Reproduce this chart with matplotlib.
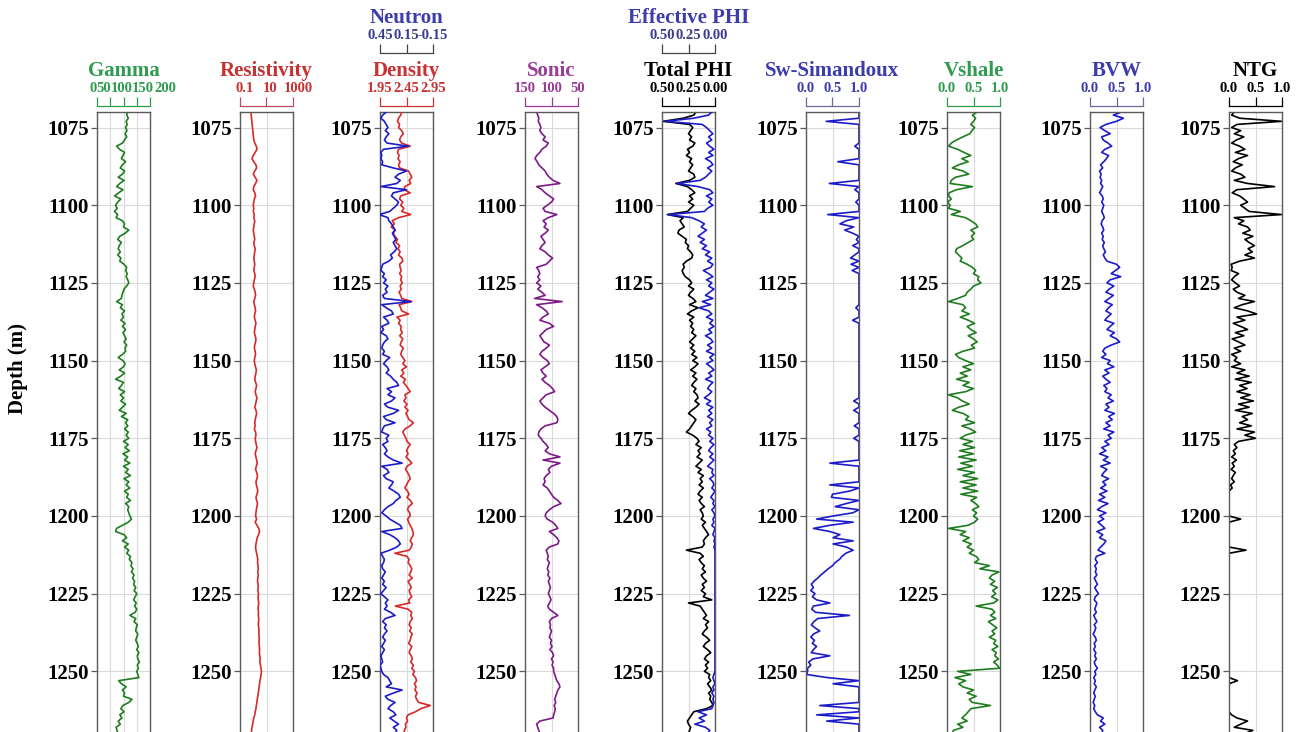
import numpy as np
import matplotlib
matplotlib.use("Agg")
import matplotlib.pyplot as plt
from matplotlib.ticker import NullLocator
from matplotlib.transforms import ScaledTranslation

plt.rcParams['font.family'] = ['Liberation Serif', 'DejaVu Serif']
plt.rcParams['font.weight'] = 'bold'

# ---------------------------------------------------------------- data
depth = np.arange(1070, 1271)          # 1 m sampling
depth_ticks = [1075, 1100, 1125, 1150, 1175, 1200, 1225, 1250]

gamma = [
    116, 112, 118, 110, 114, 108, 113, 106, 112, 104,
    96, 74, 85, 104, 98, 92, 108, 96, 88, 104,
    96, 80, 102, 86, 74, 98, 82, 66, 90, 78,
    70, 76, 66, 78, 72, 96, 104, 100, 120, 106,
    86, 78, 92, 84, 80, 88, 78, 90, 86, 102,
    112, 108, 114, 110, 116, 120, 112, 102, 98, 94,
    92, 74, 96, 88, 104, 94, 100, 90, 106, 96,
    108, 98, 104, 110, 102, 112, 106, 108, 96, 80,
    98, 106, 100, 84, 104, 90, 70, 100, 92, 82,
    104, 88, 100, 90, 108, 96, 84, 110, 92, 116,
    108, 116, 104, 118, 110, 120, 100, 118, 106, 122,
    98, 116, 104, 124, 100, 118, 108, 126, 102, 120,
    110, 124, 104, 118, 112, 126, 108, 120, 116, 120,
    124, 130, 118, 96, 74, 70, 102, 112, 96, 118,
    104, 120, 112, 126, 122, 132, 128, 136, 130, 140,
    134, 142, 138, 146, 140, 150, 144, 138, 148, 142,
    150, 144, 124, 146, 140, 152, 148, 146, 154, 150,
    146, 152, 156, 150, 158, 152, 154, 160, 152, 156,
    150, 154, 158, 82, 92, 110, 96, 104, 100, 132,
    120, 98, 90, 102, 86, 94, 80, 88, 72, 76,
    78]

resistivity = [
    0.66, 0.70, 0.75, 0.80, 0.85, 0.90, 0.95, 1.0, 1.05, 1.1,
    1.3, 1.7, 1.9, 1.4, 1.0, 0.8, 1.1, 1.6, 1.8, 1.3,
    1.0, 1.4, 1.9, 1.5, 1.1, 1.0, 1.3, 1.5, 1.2, 1.1,
    1.0, 1.1, 1.0, 1.2, 1.1, 1.3, 1.2, 1.1, 1.0, 1.1,
    1.2, 1.3, 1.1, 1.2, 1.4, 1.3, 1.2, 1.1, 1.2, 1.3,
    1.2, 1.1, 1.3, 1.4, 1.2, 1.1, 1.0, 1.2, 1.4, 1.5,
    1.3, 1.1, 1.2, 1.4, 1.5, 1.3, 1.2, 1.4, 1.6, 1.4,
    1.3, 1.2, 1.4, 1.6, 1.5, 1.3, 1.2, 1.4, 1.5, 1.3,
    1.2, 1.3, 1.5, 1.7, 1.6, 1.4, 1.3, 1.5, 1.8, 1.6,
    1.4, 1.6, 1.9, 1.7, 1.5, 1.3, 1.6, 1.8, 1.6, 1.4,
    1.3, 1.4, 1.2, 1.5, 1.6, 1.4, 1.5, 1.7, 1.9, 1.6,
    1.4, 1.6, 1.8, 2.0, 1.7, 1.5, 1.8, 2.1, 1.9, 1.6,
    1.7, 2.0, 2.2, 1.9, 1.6, 1.8, 2.1, 1.9, 1.7, 1.6,
    1.5, 1.8, 1.4, 1.9, 2.6, 3.0, 2.5, 2.0, 1.8, 1.6,
    1.5, 1.6, 1.8, 2.0, 2.2, 2.1, 2.3, 2.4, 2.2, 2.4,
    2.2, 2.1, 2.3, 2.4, 2.2, 2.5, 2.3, 2.4, 2.6, 2.4,
    2.3, 2.5, 2.4, 2.6, 2.5, 2.4, 2.6, 2.7, 2.6, 2.8,
    2.8, 2.7, 2.9, 3.0, 2.9, 3.1, 3.3, 3.2, 3.5, 3.8,
    4.2, 3.9, 3.6, 3.2, 3.0, 2.8, 2.6, 2.4, 2.2, 2.0,
    1.9, 1.7, 1.6, 1.4, 1.3, 1.1, 1.0, 0.9, 0.8, 0.75,
    0.7]

density = [
    2.36, 2.34, 2.30, 2.28, 2.32, 2.30, 2.36, 2.39, 2.34, 2.32,
    2.36, 2.52, 2.30, 2.28, 2.31, 2.29, 2.33, 2.30, 2.32, 2.49,
    2.52, 2.55, 2.50, 2.53, 2.42, 2.40, 2.52, 2.34, 2.32, 2.38,
    2.34, 2.40, 2.36, 2.53, 2.30, 2.18, 2.22, 2.16, 2.24, 2.20,
    2.23, 2.28, 2.25, 2.32, 2.29, 2.33, 2.30, 2.36, 2.38, 2.32,
    2.33, 2.35, 2.32, 2.36, 2.34, 2.37, 2.33, 2.35, 2.31, 2.34,
    2.36, 2.55, 2.31, 2.34, 2.36, 2.49, 2.27, 2.33, 2.30, 2.35,
    2.34, 2.37, 2.32, 2.38, 2.35, 2.33, 2.39, 2.36, 2.34, 2.38,
    2.42, 2.38, 2.45, 2.36, 2.40, 2.34, 2.43, 2.39, 2.44, 2.48,
    2.52, 2.42, 2.44, 2.40, 2.46, 2.42, 2.48, 2.44, 2.47, 2.50,
    2.58, 2.52, 2.42, 2.38, 2.41, 2.44, 2.46, 2.52, 2.48, 2.45,
    2.48, 2.44, 2.50, 2.55, 2.46, 2.43, 2.47, 2.50, 2.52, 2.48,
    2.45, 2.42, 2.47, 2.50, 2.46, 2.52, 2.56, 2.49, 2.47, 2.51,
    2.52, 2.47, 2.49, 2.52, 2.55, 2.57, 2.58, 2.55, 2.52, 2.56,
    2.54, 2.50, 2.23, 2.46, 2.50, 2.48, 2.52, 2.55, 2.53, 2.50,
    2.56, 2.48, 2.51, 2.54, 2.50, 2.52, 2.55, 2.49, 2.51, 2.24,
    2.48, 2.55, 2.53, 2.56, 2.52, 2.50, 2.54, 2.51, 2.56, 2.53,
    2.52, 2.49, 2.55, 2.52, 2.50, 2.54, 2.56, 2.53, 2.58, 2.55,
    2.60, 2.57, 2.62, 2.64, 2.60, 2.63, 2.61, 2.65, 2.62, 2.64,
    2.68, 2.90, 2.72, 2.62, 2.48, 2.45, 2.47, 2.43, 2.44, 2.41,
    2.40]

neutron = [
    0.38, 0.42, 0.44, 0.40, 0.38, 0.36, 0.39, 0.35, 0.38, 0.40,
    0.37, 0.13, 0.41, 0.44, 0.43, 0.44, 0.42, 0.43, 0.30, 0.15,
    0.24, 0.28, 0.22, 0.26, 0.44, 0.15, 0.30, 0.32, 0.28, 0.24,
    0.26, 0.30, 0.34, 0.46, 0.36, 0.35, 0.32, 0.30, 0.28, 0.31,
    0.29, 0.27, 0.30, 0.28, 0.26, 0.29, 0.33, 0.31, 0.35, 0.42,
    0.43, 0.44, 0.40, 0.42, 0.38, 0.41, 0.36, 0.39, 0.37, 0.42,
    0.40, 0.10, 0.43, 0.38, 0.32, 0.30, 0.41, 0.37, 0.35, 0.43,
    0.41, 0.44, 0.38, 0.36, 0.40, 0.42, 0.43, 0.40, 0.42, 0.34,
    0.38, 0.41, 0.37, 0.35, 0.38, 0.33, 0.30, 0.26, 0.24, 0.37,
    0.32, 0.36, 0.28, 0.32, 0.40, 0.36, 0.24, 0.30, 0.41, 0.38,
    0.28, 0.40, 0.42, 0.43, 0.35, 0.38, 0.36, 0.42, 0.39, 0.37,
    0.40, 0.36, 0.30, 0.20, 0.43, 0.37, 0.35, 0.41, 0.38, 0.30,
    0.32, 0.35, 0.29, 0.24, 0.22, 0.27, 0.30, 0.36, 0.40, 0.43,
    0.38, 0.34, 0.28, 0.22, 0.20, 0.43, 0.34, 0.28, 0.24, 0.22,
    0.26, 0.34, 0.44, 0.42, 0.40, 0.41, 0.43, 0.42, 0.39, 0.41,
    0.43, 0.40, 0.42, 0.38, 0.41, 0.44, 0.40, 0.36, 0.39, 0.37,
    0.40, 0.33, 0.28, 0.39, 0.42, 0.38, 0.40, 0.37, 0.40, 0.42,
    0.39, 0.41, 0.43, 0.40, 0.42, 0.44, 0.43, 0.42, 0.45, 0.44,
    0.43, 0.41, 0.36, 0.34, 0.32, 0.38, 0.20, 0.30, 0.39, 0.36,
    0.28, 0.33, 0.36, 0.30, 0.27, 0.34, 0.29, 0.24, 0.30, 0.26,
    0.28]

sonic = [
    128, 126, 124, 125, 122, 120, 122, 118, 112, 116,
    106, 110, 118, 122, 128, 131, 127, 124, 118, 112,
    109, 104, 97, 84, 128, 118, 112, 104, 96, 100,
    108, 116, 112, 90, 106, 116, 110, 114, 106, 112,
    120, 116, 112, 118, 122, 112, 106, 98, 104, 110,
    128, 124, 122, 126, 122, 128, 120, 126, 118, 112,
    132, 80, 128, 118, 110, 106, 116, 122, 104, 96,
    110, 116, 122, 118, 114, 104, 110, 118, 122, 116,
    108, 104, 112, 120, 116, 110, 118, 112, 104, 98,
    94, 110, 116, 122, 118, 112, 104, 96, 90, 88,
    90, 112, 120, 124, 125, 120, 116, 110, 106, 112,
    104, 84, 116, 84, 100, 106, 103, 110, 114, 112,
    116, 108, 104, 100, 96, 88, 82, 96, 104, 110,
    112, 108, 98, 92, 88, 104, 96, 90, 86, 88,
    104, 110, 108, 106, 108, 104, 106, 108, 105, 107,
    103, 106, 104, 102, 104, 106, 103, 101, 104, 107,
    104, 96, 88, 100, 104, 102, 103, 100, 102, 104,
    100, 102, 99, 103, 98, 96, 100, 97, 99, 96,
    96, 94, 92, 90, 86, 84, 88, 90, 92, 94,
    92, 95, 93, 94, 96, 97, 122, 128, 126, 124,
    122]

total_phi = [
    0.18, 0.20, 0.30, 0.49, 0.24, 0.21, 0.23, 0.25, 0.22, 0.24,
    0.19, 0.21, 0.26, 0.24, 0.27, 0.22, 0.24, 0.21, 0.23, 0.25,
    0.20, 0.19, 0.24, 0.37, 0.26, 0.22, 0.19, 0.24, 0.21, 0.25,
    0.20, 0.23, 0.26, 0.45, 0.30, 0.33, 0.31, 0.29, 0.34, 0.35,
    0.31, 0.27, 0.28, 0.25, 0.26, 0.23, 0.21, 0.22, 0.27, 0.30,
    0.29, 0.31, 0.30, 0.28, 0.24, 0.22, 0.25, 0.20, 0.23, 0.25,
    0.21, 0.18, 0.24, 0.16, 0.22, 0.26, 0.20, 0.24, 0.21, 0.23,
    0.20, 0.22, 0.18, 0.21, 0.24, 0.20, 0.23, 0.19, 0.22, 0.17,
    0.21, 0.16, 0.19, 0.23, 0.18, 0.21, 0.17, 0.20, 0.22, 0.18,
    0.20, 0.17, 0.16, 0.19, 0.15, 0.18, 0.22, 0.25, 0.21, 0.18,
    0.20, 0.22, 0.24, 0.27, 0.21, 0.17, 0.15, 0.18, 0.13, 0.16,
    0.14, 0.17, 0.12, 0.15, 0.18, 0.13, 0.16, 0.11, 0.14, 0.12,
    0.15, 0.11, 0.14, 0.16, 0.12, 0.15, 0.13, 0.10, 0.14, 0.12,
    0.11, 0.13, 0.09, 0.12, 0.10, 0.08, 0.06, 0.09, 0.11, 0.10,
    0.12, 0.27, 0.14, 0.11, 0.15, 0.13, 0.10, 0.12, 0.09, 0.13,
    0.11, 0.08, 0.12, 0.10, 0.13, 0.09, 0.11, 0.03, 0.25, 0.14,
    0.12, 0.10, 0.08, 0.11, 0.06, 0.09, 0.07, 0.10, 0.12, 0.08,
    0.05, 0.09, 0.11, 0.07, 0.04, 0.08, 0.10, 0.06, 0.09, 0.07,
    0.10, 0.05, 0.06, 0.04, 0.07, 0.05, 0.03, 0.06, 0.04, 0.05,
    0.03, 0.02, 0.08, 0.20, 0.22, 0.24, 0.26, 0.25, 0.23, 0.24,
    0.25]

effective_phi = [
    0.03, 0.06, 0.20, 0.47, 0.12, 0.08, 0.05, 0.02, 0.06, 0.03,
    0.08, 0.05, 0.01, 0.06, 0.02, 0.09, 0.04, 0.02, 0.07, 0.03,
    0.06, 0.09, 0.14, 0.36, 0.16, 0.05, 0.02, 0.08, 0.03, 0.06,
    0.02, 0.07, 0.10, 0.44, 0.22, 0.15, 0.10, 0.13, 0.08, 0.12,
    0.16, 0.10, 0.14, 0.08, 0.12, 0.05, 0.09, 0.03, 0.07, 0.02,
    0.04, 0.11, 0.06, 0.02, 0.08, 0.03, 0.06, 0.01, 0.05, 0.09,
    0.02, 0.12, 0.04, 0.15, 0.06, 0.03, 0.08, 0.02, 0.05, 0.01,
    0.06, 0.03, 0.09, 0.04, 0.02, 0.07, 0.03, 0.08, 0.01, 0.05,
    0.02, 0.08, 0.04, 0.01, 0.06, 0.03, 0.09, 0.02, 0.05, 0.07,
    0.03, 0.06, 0.10, 0.04, 0.08, 0.02, 0.06, 0.03, 0.07, 0.02,
    0.05, 0.03, 0.08, 0.04, 0.06, 0.02, 0.05, 0.01, 0.04, 0.06,
    0.02, 0.05, 0.01, 0.04, 0.07, 0.02, 0.03, 0.01, 0.05, 0.02,
    0.01, 0.03, 0.00, 0.02, 0.04, 0.01, 0.02, 0.00, 0.03, 0.01,
    0.00, 0.02, 0.01, 0.03, 0.00, 0.01, 0.02, 0.00, 0.01, 0.00,
    0.01, 0.00, 0.00, 0.00, 0.00, 0.00, 0.00, 0.00, 0.00, 0.00,
    0.00, 0.00, 0.00, 0.00, 0.00, 0.00, 0.00, 0.00, 0.00, 0.00,
    0.00, 0.00, 0.00, 0.00, 0.00, 0.00, 0.00, 0.00, 0.00, 0.00,
    0.00, 0.00, 0.00, 0.00, 0.00, 0.00, 0.00, 0.00, 0.00, 0.00,
    0.00, 0.01, 0.02, 0.01, 0.00, 0.02, 0.01, 0.03, 0.01, 0.02,
    0.01, 0.02, 0.03, 0.16, 0.08, 0.15, 0.10, 0.19, 0.09, 0.05,
    0.07]

sw_simandoux = [
    1.00, 1.00, 1.00, 0.38, 1.00, 1.00, 1.00, 1.00, 1.00, 1.00,
    1.00, 0.92, 1.00, 1.00, 1.00, 1.00, 0.60, 1.00, 1.00, 1.00,
    1.00, 1.00, 1.00, 0.44, 1.00, 0.92, 1.00, 1.00, 1.00, 0.94,
    1.00, 1.00, 1.00, 0.41, 1.00, 0.76, 0.64, 0.90, 0.73, 0.88,
    1.00, 0.95, 1.00, 0.88, 1.00, 1.00, 0.92, 0.84, 1.00, 0.85,
    1.00, 0.87, 1.00, 1.00, 1.00, 1.00, 1.00, 1.00, 1.00, 1.00,
    1.00, 1.00, 1.00, 0.94, 1.00, 1.00, 1.00, 0.88, 1.00, 1.00,
    1.00, 1.00, 1.00, 1.00, 1.00, 1.00, 1.00, 1.00, 1.00, 1.00,
    1.00, 1.00, 1.00, 1.00, 1.00, 1.00, 1.00, 1.00, 1.00, 1.00,
    1.00, 1.00, 1.00, 0.90, 1.00, 1.00, 0.90, 1.00, 1.00, 1.00,
    1.00, 0.91, 1.00, 1.00, 1.00, 0.90, 1.00, 1.00, 1.00, 1.00,
    1.00, 1.00, 1.00, 0.45, 1.00, 1.00, 1.00, 1.00, 1.00, 1.00,
    0.45, 1.00, 0.82, 0.50, 0.48, 1.00, 0.76, 0.55, 1.00, 0.88,
    0.51, 0.20, 0.89, 0.45, 0.14, 0.45, 0.64, 0.51, 0.89, 0.51,
    0.76, 0.89, 0.75, 0.68, 0.63, 0.55, 0.50, 0.42, 0.35, 0.28,
    0.22, 0.15, 0.10, 0.14, 0.09, 0.17, 0.12, 0.20, 0.45, 0.14,
    0.11, 0.18, 0.82, 0.22, 0.15, 0.10, 0.17, 0.26, 0.14, 0.09,
    0.16, 0.12, 0.20, 0.14, 0.10, 0.45, 0.13, 0.05, 0.09, 0.03,
    0.03, 0.01, 0.40, 1.00, 0.51, 1.00, 1.00, 1.00, 1.00, 1.00,
    1.00, 0.26, 1.00, 1.00, 0.20, 1.00, 0.39, 1.00, 1.00, 1.00,
    1.00]

vshale = [
    0.57, 0.48, 0.54, 0.50, 0.45, 0.52, 0.47, 0.43, 0.30, 0.18,
    0.08, 0.03, 0.20, 0.32, 0.45, 0.28, 0.40, 0.22, 0.10, 0.30,
    0.41, 0.16, 0.08, 0.06, 0.48, 0.18, 0.04, 0.03, 0.08, 0.01,
    0.06, 0.03, 0.25, 0.08, 0.35, 0.45, 0.54, 0.58, 0.45, 0.52,
    0.46, 0.50, 0.40, 0.30, 0.18, 0.16, 0.22, 0.28, 0.25, 0.38,
    0.48, 0.54, 0.50, 0.60, 0.58, 0.64, 0.50, 0.45, 0.38, 0.35,
    0.20, 0.03, 0.30, 0.35, 0.28, 0.42, 0.25, 0.40, 0.52, 0.38,
    0.45, 0.55, 0.40, 0.50, 0.57, 0.46, 0.52, 0.30, 0.16, 0.22,
    0.35, 0.50, 0.30, 0.45, 0.25, 0.38, 0.18, 0.42, 0.30, 0.50,
    0.35, 0.03, 0.20, 0.29, 0.42, 0.22, 0.10, 0.30, 0.41, 0.35,
    0.52, 0.28, 0.44, 0.54, 0.35, 0.25, 0.48, 0.30, 0.52, 0.24,
    0.50, 0.22, 0.55, 0.26, 0.48, 0.20, 0.52, 0.30, 0.58, 0.25,
    0.55, 0.30, 0.58, 0.26, 0.56, 0.45, 0.54, 0.60, 0.48, 0.56,
    0.50, 0.58, 0.52, 0.40, 0.03, 0.35, 0.25, 0.42, 0.30, 0.46,
    0.38, 0.50, 0.42, 0.55, 0.60, 0.52, 0.80, 0.62, 0.98, 0.85,
    0.80, 0.90, 0.82, 0.95, 0.86, 0.92, 0.84, 0.96, 0.88, 0.55,
    0.85, 0.90, 0.82, 0.92, 0.78, 0.86, 0.94, 0.85, 0.90, 0.80,
    0.92, 0.88, 0.96, 0.85, 0.93, 0.90, 0.97, 0.88, 0.95, 0.99,
    0.20, 0.45, 0.15, 0.35, 0.22, 0.30, 0.50, 0.38, 0.55, 0.42,
    0.48, 0.82, 0.45, 0.40, 0.35, 0.28, 0.38, 0.20, 0.30, 0.12,
    0.10]

bvw = [
    0.59, 0.44, 0.63, 0.50, 0.30, 0.19, 0.28, 0.38, 0.22, 0.25,
    0.34, 0.41, 0.28, 0.22, 0.35, 0.31, 0.26, 0.20, 0.24, 0.18,
    0.21, 0.19, 0.22, 0.20, 0.24, 0.21, 0.18, 0.23, 0.25, 0.22,
    0.26, 0.24, 0.22, 0.25, 0.27, 0.23, 0.21, 0.24, 0.26, 0.22,
    0.25, 0.23, 0.27, 0.24, 0.26, 0.29, 0.25, 0.28, 0.32, 0.50,
    0.56, 0.48, 0.40, 0.58, 0.38, 0.32, 0.45, 0.36, 0.30, 0.44,
    0.36, 0.28, 0.42, 0.35, 0.30, 0.40, 0.33, 0.28, 0.45, 0.38,
    0.32, 0.46, 0.38, 0.50, 0.56, 0.40, 0.28, 0.24, 0.30, 0.22,
    0.38, 0.33, 0.45, 0.28, 0.36, 0.24, 0.30, 0.38, 0.26, 0.32,
    0.28, 0.40, 0.34, 0.44, 0.30, 0.36, 0.28, 0.46, 0.35, 0.42,
    0.30, 0.38, 0.26, 0.45, 0.34, 0.40, 0.28, 0.36, 0.22, 0.30,
    0.18, 0.34, 0.25, 0.38, 0.20, 0.32, 0.26, 0.22, 0.35, 0.24,
    0.30, 0.20, 0.32, 0.18, 0.28, 0.16, 0.34, 0.22, 0.14, 0.30,
    0.18, 0.26, 0.15, 0.22, 0.28, 0.13, 0.24, 0.18, 0.30, 0.26,
    0.20, 0.15, 0.28, 0.12, 0.10, 0.14, 0.09, 0.12, 0.10, 0.13,
    0.08, 0.11, 0.14, 0.09, 0.12, 0.16, 0.10, 0.08, 0.13, 0.11,
    0.09, 0.12, 0.07, 0.10, 0.13, 0.08, 0.11, 0.09, 0.06, 0.10,
    0.12, 0.08, 0.10, 0.07, 0.11, 0.09, 0.12, 0.08, 0.10, 0.14,
    0.09, 0.11, 0.07, 0.10, 0.08, 0.12, 0.09, 0.07, 0.10, 0.08,
    0.06, 0.09, 0.07, 0.10, 0.14, 0.25, 0.20, 0.28, 0.18, 0.24,
    0.22]

ntg = [
    0.10, 0.05, 0.20, 0.99, 0.15, 0.05, 0.22, 0.10, 0.28, 0.14,
    0.05, 0.20, 0.30, 0.12, 0.35, 0.18, 0.08, 0.25, 0.12, 0.05,
    0.22, 0.30, 0.10, 0.35, 0.86, 0.15, 0.06, 0.20, 0.28, 0.35,
    0.22, 0.30, 0.38, 0.99, 0.10, 0.28, 0.18, 0.35, 0.40, 0.26,
    0.45, 0.30, 0.38, 0.48, 0.36, 0.44, 0.30, 0.48, 0.20, 0.04,
    0.06, 0.04, 0.18, 0.10, 0.05, 0.12, 0.20, 0.08, 0.15, 0.30,
    0.18, 0.48, 0.25, 0.10, 0.35, 0.52, 0.15, 0.30, 0.08, 0.22,
    0.35, 0.12, 0.28, 0.06, 0.18, 0.30, 0.10, 0.22, 0.05, 0.15,
    0.10, 0.22, 0.05, 0.30, 0.15, 0.38, 0.12, 0.42, 0.20, 0.34,
    0.15, 0.40, 0.22, 0.46, 0.18, 0.38, 0.12, 0.44, 0.25, 0.35,
    0.20, 0.42, 0.15, 0.48, 0.30, 0.50, 0.18, 0.10, 0.15, 0.08,
    0.12, 0.05, 0.14, 0.06, 0.10, 0.04, 0.12, 0.08, 0.05, 0.10,
    0.03, 0.06, 0.00, 0.00, 0.00, 0.00, 0.00, 0.00, 0.00, 0.00,
    0.00, 0.22, 0.00, 0.00, 0.00, 0.00, 0.00, 0.00, 0.00, 0.00,
    0.00, 0.32, 0.00, 0.00, 0.00, 0.00, 0.00, 0.00, 0.00, 0.00,
    0.00, 0.00, 0.00, 0.00, 0.00, 0.00, 0.00, 0.00, 0.00, 0.00,
    0.00, 0.00, 0.00, 0.00, 0.00, 0.00, 0.00, 0.00, 0.00, 0.00,
    0.00, 0.00, 0.00, 0.00, 0.00, 0.00, 0.00, 0.00, 0.00, 0.00,
    0.00, 0.00, 0.00, 0.16, 0.00, 0.00, 0.00, 0.00, 0.00, 0.00,
    0.00, 0.00, 0.00, 0.00, 0.05, 0.15, 0.35, 0.22, 0.10, 0.45,
    0.30]

for arr in (gamma, resistivity, density, neutron, sonic, total_phi,
            effective_phi, sw_simandoux, vshale, bvw, ntg):
    assert len(arr) == len(depth), len(arr)

# ---------------------------------------------------------------- styles
GREEN_TXT, GREEN_LINE = '#2f9b4f', '#1e7d1e'
RED_TXT, RED_LINE = '#c83232', '#d82828'
BLUE_TXT, BLUE_LINE = '#3c3cac', '#1c1cc8'
NAVY_TXT = '#3c3c8c'
PURPLE_TXT, PURPLE_LINE = '#983c98', '#7d1a88'
BLACK = '#000000'
BOX = '#5a5a5a'
GRID = '#dadada'

W, H = 1299, 732
fig = plt.figure(figsize=(W / 100, H / 100), dpi=100)
fig.patch.set_facecolor('white')

track_left = [97, 240, 380, 525, 662, 806, 947, 1090, 1229]
track_w = 53
top_px, bot_px = 112, 733.5


def make_track(i, lim, ticks, log=False):
    ax = fig.add_axes([track_left[i] / W, 1 - bot_px / H,
                       track_w / W, (bot_px - top_px) / H])
    if log:
        ax.set_xscale('log')
    ax.set_xlim(*lim)
    ax.set_xticks(ticks)
    ax.xaxis.set_minor_locator(NullLocator())
    ax.set_ylim(1270, 1070)
    ax.set_yticks(depth_ticks)
    ax.grid(True, color=GRID, lw=0.8)
    ax.set_axisbelow(True)
    ax.tick_params(axis='x', which='both', bottom=False, top=False,
                   labelbottom=False, labeltop=False)
    ax.tick_params(axis='y', labelsize=15, length=4, width=0.9,
                   color=BOX, pad=2)
    for s in ax.spines.values():
        s.set_color(BOX)
        s.set_linewidth(1.0)
    return ax


def add_scale(ax, title, lim, ticks, labels, txt_color, spine_color,
              offset, log=False, label_dx=None, tick_color=None):
    sc = ax.twiny()
    if log:
        sc.set_xscale('log')
    sc.set_xlim(*lim)
    sc.set_xticks(ticks)
    sc.set_xticklabels(labels)
    sc.xaxis.set_minor_locator(NullLocator())
    for s in ('left', 'right', 'bottom'):
        sc.spines[s].set_visible(False)
    sc.spines['top'].set_position(('outward', offset))
    sc.spines['top'].set_color(spine_color)
    sc.spines['top'].set_linewidth(0.9)
    sc.tick_params(axis='x', which='major', direction='out', length=6.5,
                   width=0.9, color=spine_color,
                   labelcolor=tick_color or txt_color,
                   labelsize=10.5, pad=1.5)
    sc.set_xlabel(title, color=txt_color, fontsize=15, fontweight='bold',
                  labelpad=4)
    if label_dx is not None:
        for tick, dx in zip(sc.xaxis.get_major_ticks(), label_dx):
            lab = tick.label2
            lab.set_transform(lab.get_transform() +
                              ScaledTranslation(dx / 100, 0, fig.dpi_scale_trans))
    return sc


LOW, HIGH = 4.3, 42.5
LW = 1.2

# Gamma ray
g_lim, g_ticks = (0, 200), [0, 50, 100, 150, 200]
ax = make_track(0, g_lim, g_ticks)
ax.plot(gamma, depth, color=GREEN_LINE, lw=LW)
add_scale(ax, 'Gamma', g_lim, g_ticks, ['0', '50', '100', '150', '200'],
          GREEN_TXT, GREEN_TXT, LOW, label_dx=[-4, -7, -2, 6, 15])
fig.text(18 / W, 1 - 368 / H, 'Depth (m)', rotation=90, ha='center',
         va='center', fontsize=15, fontweight='bold')

# Resistivity
r_lim, r_ticks = (0.1, 1000), [0.1, 10, 1000]
ax = make_track(1, r_lim, r_ticks, log=True)
ax.plot(resistivity, depth, color=RED_LINE, lw=LW)
add_scale(ax, 'Resistivity', r_lim, r_ticks, ['0.1', '10', '1000'],
          RED_TXT, '#b0505c', LOW, log=True, label_dx=[5, 4, 5])

# Density / Neutron
d_lim, d_ticks = (1.95, 2.95), [1.95, 2.45, 2.95]
n_lim, n_ticks = (0.45, -0.15), [0.45, 0.15, -0.15]
ax = make_track(2, d_lim, d_ticks)
ax.plot(density, depth, color=RED_LINE, lw=LW, zorder=3)
add_scale(ax, 'Density', d_lim, d_ticks, ['1.95', '2.45', '2.95'],
          RED_TXT, RED_TXT, LOW)
sc = add_scale(ax, 'Neutron', n_lim, n_ticks, ['0.45', '0.15', '-0.15'],
               BLUE_TXT, '#444444', HIGH, tick_color=NAVY_TXT)
sc.plot(neutron, depth, color=BLUE_LINE, lw=LW)

# Sonic
s_lim, s_ticks = (150, 50), [150, 100, 50]
ax = make_track(3, s_lim, s_ticks)
ax.plot(sonic, depth, color=PURPLE_LINE, lw=LW)
add_scale(ax, 'Sonic', s_lim, s_ticks, ['150', '100', '50'],
          PURPLE_TXT, PURPLE_TXT, LOW)

# Porosity
p_lim, p_ticks = (0.5, 0.0), [0.5, 0.25, 0.0]
p_labels = ['0.50', '0.25', '0.00']
ax = make_track(4, p_lim, p_ticks)
ax.plot(total_phi, depth, color=BLACK, lw=LW)
add_scale(ax, 'Total PHI', p_lim, p_ticks, p_labels, BLACK, BLACK, LOW)
sc = add_scale(ax, 'Effective PHI', p_lim, p_ticks, p_labels,
               BLUE_TXT, '#444444', HIGH, tick_color=NAVY_TXT)
sc.plot(effective_phi, depth, color=BLUE_LINE, lw=LW)

# Fractions 0 - 1
f_lim, f_ticks, f_labels = (0, 1), [0, 0.5, 1], ['0.0', '0.5', '1.0']

ax = make_track(5, f_lim, f_ticks)
ax.plot(sw_simandoux, depth, color=BLUE_LINE, lw=LW)
add_scale(ax, 'Sw-Simandoux', f_lim, f_ticks, f_labels,
          BLUE_TXT, '#6a6a9a', LOW)

ax = make_track(6, f_lim, f_ticks)
ax.plot(vshale, depth, color=GREEN_LINE, lw=LW)
add_scale(ax, 'Vshale', f_lim, f_ticks, f_labels, GREEN_TXT, GREEN_TXT, LOW)

ax = make_track(7, f_lim, f_ticks)
ax.plot(bvw, depth, color=BLUE_LINE, lw=LW)
add_scale(ax, 'BVW', f_lim, f_ticks, f_labels, BLUE_TXT, '#6a6a9a', LOW)

ax = make_track(8, f_lim, f_ticks)
ax.plot(ntg, depth, color=BLACK, lw=LW)
add_scale(ax, 'NTG', f_lim, f_ticks, f_labels, BLACK, BLACK, LOW)

fig.savefig('out.png', dpi=100, facecolor='white')
